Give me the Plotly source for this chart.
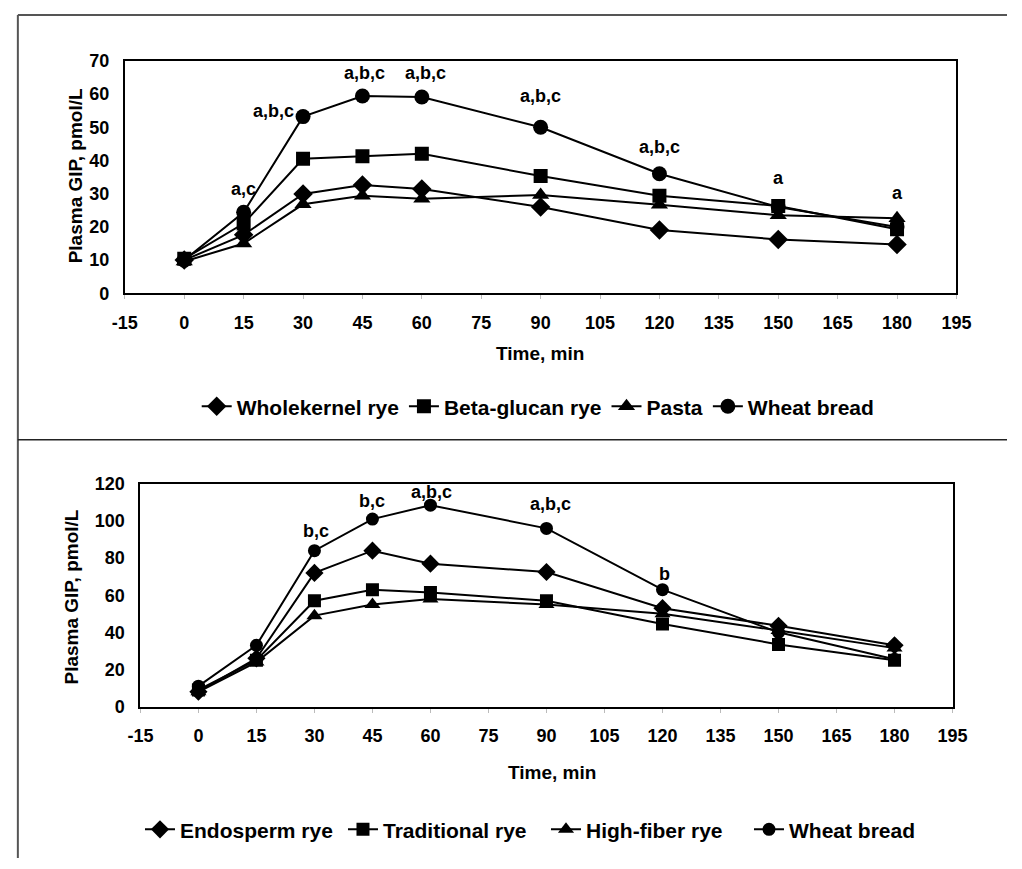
import plotly.graph_objects as go

# ---------------- data ----------------
time_min = [0, 15, 30, 45, 60, 90, 120, 150, 180]

# Top panel
wholekernel_rye = [10.0, 17.6, 29.9, 32.6, 31.4, 26.0, 19.1, 16.2, 14.7]
beta_glucan_rye = [10.4, 21.0, 40.5, 41.3, 42.0, 35.3, 29.4, 26.3, 19.3]
pasta = [9.6, 15.0, 26.8, 29.4, 28.5, 29.6, 26.7, 23.5, 22.6]
wheat_bread_top = [10.0, 24.4, 53.2, 59.4, 59.1, 50.0, 36.0, 26.0, 20.0]

# Bottom panel
endosperm_rye = [8.0, 26.0, 72.0, 84.0, 77.0, 72.5, 53.0, 43.5, 33.0]
traditional_rye = [9.0, 25.0, 57.0, 63.0, 61.5, 57.0, 44.5, 33.5, 25.0]
high_fiber_rye = [8.0, 24.0, 49.0, 55.0, 58.0, 55.0, 50.0, 41.0, 31.5]
wheat_bread_bottom = [11.0, 33.0, 84.0, 101.0, 108.5, 96.0, 63.0, 40.0, 25.5]

top_names = ["Wholekernel rye", "Beta-glucan rye", "Pasta", "Wheat bread"]
bottom_names = ["Endosperm rye", "Traditional rye", "High-fiber rye", "Wheat bread"]

# significance labels: text, x, y (data units)
top_sig_text = ["a,c", "a,b,c", "a,b,c", "a,b,c", "a,b,c", "a,b,c", "a", "a"]
top_sig_x = [15, 22.6, 45.5, 61, 90, 120, 150, 180]
top_sig_y = [31.5, 55.0, 66.2, 66.2, 59.4, 44.1, 34.7, 30.3]

bottom_sig_text = ["b,c", "b,c", "a,b,c", "a,b,c", "b"]
bottom_sig_x = [30.5, 45, 60.2, 91, 120.6]
bottom_sig_y = [94.7, 111.0, 115.8, 109.0, 71.6]

x_tickvals = [-15, 0, 15, 30, 45, 60, 75, 90, 105, 120, 135, 150, 165, 180, 195]
x_ticktext = ["-15", "0", "15", "30", "45", "60", "75", "90", "105", "120",
              "135", "150", "165", "180", "195"]

# ---------------- figure ----------------
W, H = 1022, 869
FONT = "Liberation Sans, Arial, sans-serif"

def px_x(p):
    return p / W

def px_y(p):
    return 1 - p / H

symbols = ["diamond", "square", "triangle-up", "circle"]
top_sizes = [15, 14, 15, 15]
bot_sizes = [14, 13, 14, 13]

fig = go.Figure()

for name, vals, sym, sz in zip(top_names,
                               [wholekernel_rye, beta_glucan_rye, pasta, wheat_bread_top],
                               symbols, top_sizes):
    fig.add_trace(go.Scatter(
        x=time_min, y=vals, name=name, mode="lines+markers",
        line=dict(color="black", width=2),
        marker=dict(symbol=sym, size=sz, color="black"),
        xaxis="x", yaxis="y", legend="legend"))

for name, vals, sym, sz in zip(bottom_names,
                               [endosperm_rye, traditional_rye, high_fiber_rye, wheat_bread_bottom],
                               symbols, bot_sizes):
    fig.add_trace(go.Scatter(
        x=time_min, y=vals, name=name, mode="lines+markers",
        line=dict(color="black", width=2),
        marker=dict(symbol=sym, size=sz, color="black"),
        xaxis="x2", yaxis="y2", legend="legend2"))

tickfont = dict(family=FONT, size=18, color="black", weight="bold")

xcommon = dict(range=[-15, 195], tickvals=x_tickvals, ticktext=x_ticktext,
               showline=True, linecolor="black", linewidth=2, mirror=True,
               showgrid=False, zeroline=False, ticks="outside", ticklen=4,
               tickcolor="#bbbbbb", tickwidth=1, tickfont=tickfont,
               ticklabelstandoff=8, fixedrange=True)
ycommon = dict(showline=True, linecolor="black", linewidth=2, mirror=True,
               showgrid=False, zeroline=False, ticks="", tickfont=tickfont,
               ticklabelstandoff=10, fixedrange=True)

fig.update_layout(
    width=W, height=H,
    margin=dict(l=0, r=0, t=0, b=0),
    paper_bgcolor="white", plot_bgcolor="white",
    font=dict(family=FONT, color="black"),
    xaxis=dict(domain=[px_x(115), px_x(970)], anchor="y", **xcommon),
    yaxis=dict(domain=[px_y(290), px_y(52)], anchor="x", range=[0, 70], dtick=10, **ycommon),
    xaxis2=dict(domain=[px_x(131), px_x(966)], anchor="y2", **xcommon),
    yaxis2=dict(domain=[px_y(713), px_y(485)], anchor="x2", range=[0, 120], dtick=20, **ycommon),
    legend=dict(orientation="h", x=px_x(540), xanchor="center", y=px_y(406), yanchor="middle",
                font=dict(family=FONT, size=21, color="black", weight="bold"),
                bgcolor="rgba(0,0,0,0)", itemclick=False, itemdoubleclick=False),
    legend2=dict(orientation="h", x=px_x(548), xanchor="center", y=px_y(839), yanchor="middle",
                 font=dict(family=FONT, size=21, color="black", weight="bold"),
                 entrywidth=158, entrywidthmode="pixels",
                 bgcolor="rgba(0,0,0,0)", itemclick=False, itemdoubleclick=False),
    showlegend=True,
)

annots = []
sigfont = dict(family=FONT, size=18, color="black", weight="bold")
for t, x, y in zip(top_sig_text, top_sig_x, top_sig_y):
    annots.append(dict(text=t, x=x, y=y, xref="x", yref="y", showarrow=False,
                       font=sigfont, xanchor="center", yanchor="middle"))
for t, x, y in zip(bottom_sig_text, bottom_sig_x, bottom_sig_y):
    annots.append(dict(text=t, x=x, y=y, xref="x2", yref="y2", showarrow=False,
                       font=sigfont, xanchor="center", yanchor="middle"))

titlefont = dict(family=FONT, size=19, color="black", weight="bold")
annots += [
    dict(text="Time, min", x=px_x(542), y=px_y(352), xref="paper", yref="paper",
         showarrow=False, font=titlefont, xanchor="center", yanchor="middle"),
    dict(text="Time, min", x=px_x(554), y=px_y(780), xref="paper", yref="paper",
         showarrow=False, font=titlefont, xanchor="center", yanchor="middle"),
    dict(text="Plasma GIP, pmol/L", x=px_x(64), y=px_y(170), xref="paper", yref="paper",
         showarrow=False, font=titlefont, xanchor="center", yanchor="middle", textangle=-90),
    dict(text="Plasma GIP, pmol/L", x=px_x(60), y=px_y(601), xref="paper", yref="paper",
         showarrow=False, font=titlefont, xanchor="center", yanchor="middle", textangle=-90),
]
fig.update_layout(annotations=annots)

# panel frame lines
fig.update_layout(shapes=[
    dict(type="line", xref="paper", yref="paper", x0=px_x(5), x1=1, y0=px_y(5), y1=px_y(5),
         line=dict(color="#555555", width=2)),
    dict(type="line", xref="paper", yref="paper", x0=px_x(5), x1=px_x(5), y0=px_y(5), y1=px_y(868),
         line=dict(color="#555555", width=2)),
    dict(type="line", xref="paper", yref="paper", x0=px_x(5), x1=1, y0=px_y(440), y1=px_y(440),
         line=dict(color="#222222", width=1.5)),
])

fig.write_html(
    "out.html",
    post_script="document.body.style.margin='0';",
)
